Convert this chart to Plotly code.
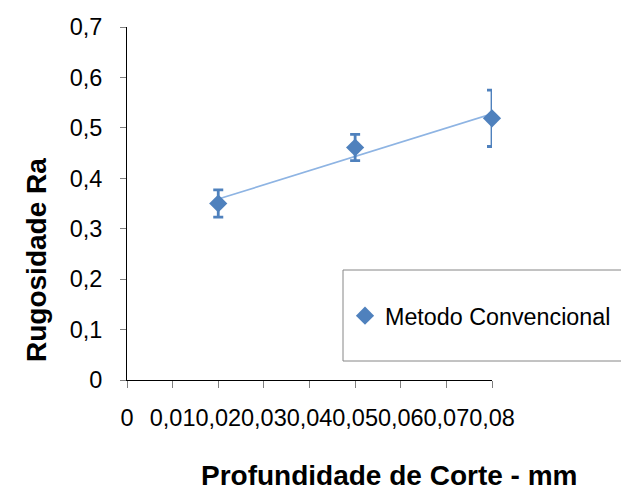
import numpy as np
import plotly.graph_objects as go

# Surface roughness (Ra) versus depth of cut, conventional method
profundidade = [0.02, 0.05, 0.08]
rugosidade = [0.35, 0.461, 0.519]
desvio = [0.027, 0.026, 0.056]

x_ticks = [0, 0.01, 0.02, 0.03, 0.04, 0.05, 0.06, 0.07, 0.08]
x_labels = ["0", "0,01", "0,02", "0,03", "0,04", "0,05", "0,06", "0,07", "0,08"]
y_ticks = [0, 0.1, 0.2, 0.3, 0.4, 0.5, 0.6, 0.7]
y_labels = ["0", "0,1", "0,2", "0,3", "0,4", "0,5", "0,6", "0,7"]

serie_nome = "Metodo Convencional"
azul = "#4F81BD"
azul_claro = "#8EB4E3"
fonte = "Liberation Sans, Arial, sans-serif"

# linear trend line fitted over the measured points
coef = np.polyfit(profundidade, rugosidade, 1)
tend_x = [min(profundidade), max(profundidade)]
tend_y = list(np.polyval(coef, tend_x))

W, H = 621, 492
ml, mr, mt, mb = 127, 129, 27, 112
pw, ph = W - ml - mr, H - mt - mb


def px_x(p):
    return (p - ml) / pw


def px_y(p):
    return (H - mb - p) / ph


fig = go.Figure()
fig.add_trace(go.Scatter(
    x=tend_x, y=tend_y, mode="lines",
    line=dict(color=azul_claro, width=1.6),
    showlegend=False, hoverinfo="skip", cliponaxis=False,
))
fig.add_trace(go.Scatter(
    x=profundidade, y=rugosidade, mode="markers", name=serie_nome,
    marker=dict(symbol="diamond", size=14, color=azul),
    error_y=dict(type="data", array=desvio, visible=True,
                 color=azul, thickness=2.8, width=5),
    cliponaxis=False,
))

# legend frame
fig.add_shape(type="rect", xref="paper", yref="paper",
              x0=px_x(343), x1=px_x(626), y0=px_y(361), y1=px_y(270),
              line=dict(color="#868686", width=1), fillcolor="rgba(0,0,0,0)")

fig.add_annotation(text="<b>Profundidade de Corte - mm</b>", xref="paper", yref="paper",
                   x=px_x(389), y=px_y(476), showarrow=False,
                   xanchor="center", yanchor="middle",
                   font=dict(family=fonte, size=28, color="black"))
fig.add_annotation(text="<b>Rugosidade Ra</b>", xref="paper", yref="paper",
                   x=px_x(36), y=px_y(260), showarrow=False, textangle=-90,
                   xanchor="center", yanchor="middle",
                   font=dict(family=fonte, size=28, color="black"))

fig.update_layout(
    width=W, height=H,
    margin=dict(l=ml, r=mr, t=mt, b=mb, autoexpand=False),
    paper_bgcolor="white", plot_bgcolor="white",
    font=dict(family=fonte, size=23.5, color="black"),
    legend=dict(x=px_x(345), y=px_y(316), xanchor="left", yanchor="middle",
                bgcolor="rgba(0,0,0,0)", borderwidth=0,
                font=dict(family=fonte, size=23.3, color="black")),
    xaxis=dict(range=[0, 0.08], tickvals=x_ticks, ticktext=x_labels,
               tickangle=0, automargin=False,
               showgrid=False, zeroline=False, showline=True,
               linecolor="black", linewidth=1, ticks="outside",
               ticklen=7, tickcolor="#808080", ticklabelstandoff=10),
    yaxis=dict(range=[0, 0.7], tickvals=y_ticks, ticktext=y_labels,
               tickangle=0, automargin=False,
               showgrid=False, zeroline=False, showline=True,
               linecolor="black", linewidth=1, ticks="outside",
               ticklen=6, tickcolor="#808080", ticklabelstandoff=13),
)

fig.write_html("out.html")
